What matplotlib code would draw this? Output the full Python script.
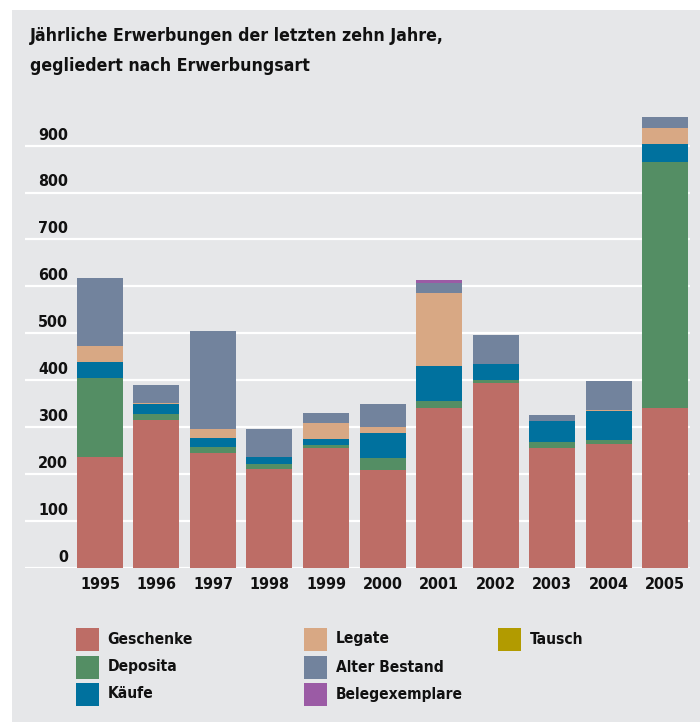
import numpy as np
import matplotlib
matplotlib.use("Agg")
import matplotlib.pyplot as plt
import matplotlib.transforms as mtransforms
from matplotlib.patches import Rectangle
from matplotlib import font_manager

# Daten
years = ["1995", "1996", "1997", "1998", "1999", "2000", "2001", "2002", "2003", "2004", "2005"]
geschenke = [236, 315, 244, 210, 255, 208, 340, 394, 255, 263, 340]
deposita = [168, 13, 13, 11, 6, 26, 15, 5, 13, 9, 525]
kaeufe = [34, 21, 19, 15, 13, 53, 75, 36, 45, 62, 38]
legate = [34, 2, 19, 0, 35, 13, 156, 0, 0, 2, 34]
alter_bestand = [145, 38, 209, 60, 21, 49, 21, 60, 13, 62, 24]
belegexemplare = [0, 0, 0, 0, 0, 0, 6, 0, 0, 0, 0]
tausch = [0, 0, 0, 0, 0, 0, 0, 0, 0, 0, 0]

series = [
    ("Geschenke", geschenke, "#bd6d66"),
    ("Deposita", deposita, "#548e64"),
    ("Käufe", kaeufe, "#00719e"),
    ("Legate", legate, "#d8a884"),
    ("Alter Bestand", alter_bestand, "#72839d"),
    ("Belegexemplare", belegexemplare, "#9b5ba5"),
    ("Tausch", tausch, "#b29b00"),
]

# Schrift: schmale fette Sans suchen, sonst Liberation Sans etwas kleiner
narrow = None
for f in font_manager.fontManager.ttflist:
    n = f.name.lower()
    if ("narrow" in n or "condensed" in n or f.stretch in ("condensed", "semi-condensed")) \
            and f.weight in ("bold", 700):
        narrow = f.fname
        break

if narrow:
    title_fp = font_manager.FontProperties(fname=narrow, size=12.7)
    leg_fp = font_manager.FontProperties(fname=narrow, size=11.2)
    tick_fp = font_manager.FontProperties(fname=narrow, size=11.5)
else:
    title_fp = font_manager.FontProperties(family="Liberation Sans", weight="bold", size=13.3)
    leg_fp = font_manager.FontProperties(family="Liberation Sans", weight="bold", size=11.5)
    tick_fp = font_manager.FontProperties(family="Liberation Sans", weight="bold", size=12)

BG = "#e6e7e9"
TXT = "#111111"
W, H = 700, 722
fig = plt.figure(figsize=(W / 100, H / 100), dpi=100, facecolor="white")
fig.add_artist(Rectangle((12 / W, 0), 1, 1 - 10 / H, transform=fig.transFigure,
                         facecolor=BG, edgecolor="none", zorder=-10))

# Achse: 0 liegt bei y=567.5 px, 100 Einheiten = 46.88 px
ax = fig.add_axes([25 / W, 1 - 567.5 / H, 665 / W, 457.5 / H])
ax.set_facecolor("none")
ax.set_xlim(-1.327, 10.442)
ax.set_ylim(0, 976)
for s in ax.spines.values():
    s.set_visible(False)

x = np.arange(len(years))
bottom = np.zeros(len(years))
for name, vals, col in series:
    vals = np.array(vals, dtype=float)
    ax.bar(x, vals, bottom=bottom, width=0.814, color=col, zorder=3, linewidth=0)
    bottom += vals

ticks = np.arange(0, 1000, 100)
for t in ticks:
    ax.axhline(t, color="white", lw=1.6, zorder=1)

trans = mtransforms.blended_transform_factory(fig.transFigure, ax.transData)
trans = mtransforms.offset_copy(trans, fig=fig, x=0, y=10.5 * 0.72, units="points")
for t in ticks:
    ax.text(68 / W, t, str(t), transform=trans, ha="right", va="center",
            fontproperties=tick_fp, color=TXT)

ax.set_yticks([])
ax.set_xticks(x, years)
ax.tick_params(axis="x", length=0, pad=7, labelcolor=TXT)
for lab in ax.get_xticklabels():
    lab.set_fontproperties(tick_fp)

fig.text(30 / W, 1 - 41 / H, "Jährliche Erwerbungen der letzten zehn Jahre,",
         fontproperties=title_fp, color=TXT, va="baseline")
fig.text(30 / W, 1 - 71 / H, "gegliedert nach Erwerbungsart",
         fontproperties=title_fp, color=TXT, va="baseline")

# Legende
col_x = [76, 304, 498]
row_y = [628, 656, 683]
for i, (name, vals, col) in enumerate(series):
    c, r = divmod(i, 3)
    px, py = col_x[c], row_y[r]
    fig.add_artist(Rectangle((px / W, 1 - (py + 22.5) / H), 23 / W, 22.5 / H,
                             transform=fig.transFigure, facecolor=col, edgecolor="none"))
    fig.text((px + 31.5) / W, 1 - (py + 11) / H, name, fontproperties=leg_fp,
             color=TXT, va="center")

fig.savefig("out.png", dpi=100, facecolor="white")
